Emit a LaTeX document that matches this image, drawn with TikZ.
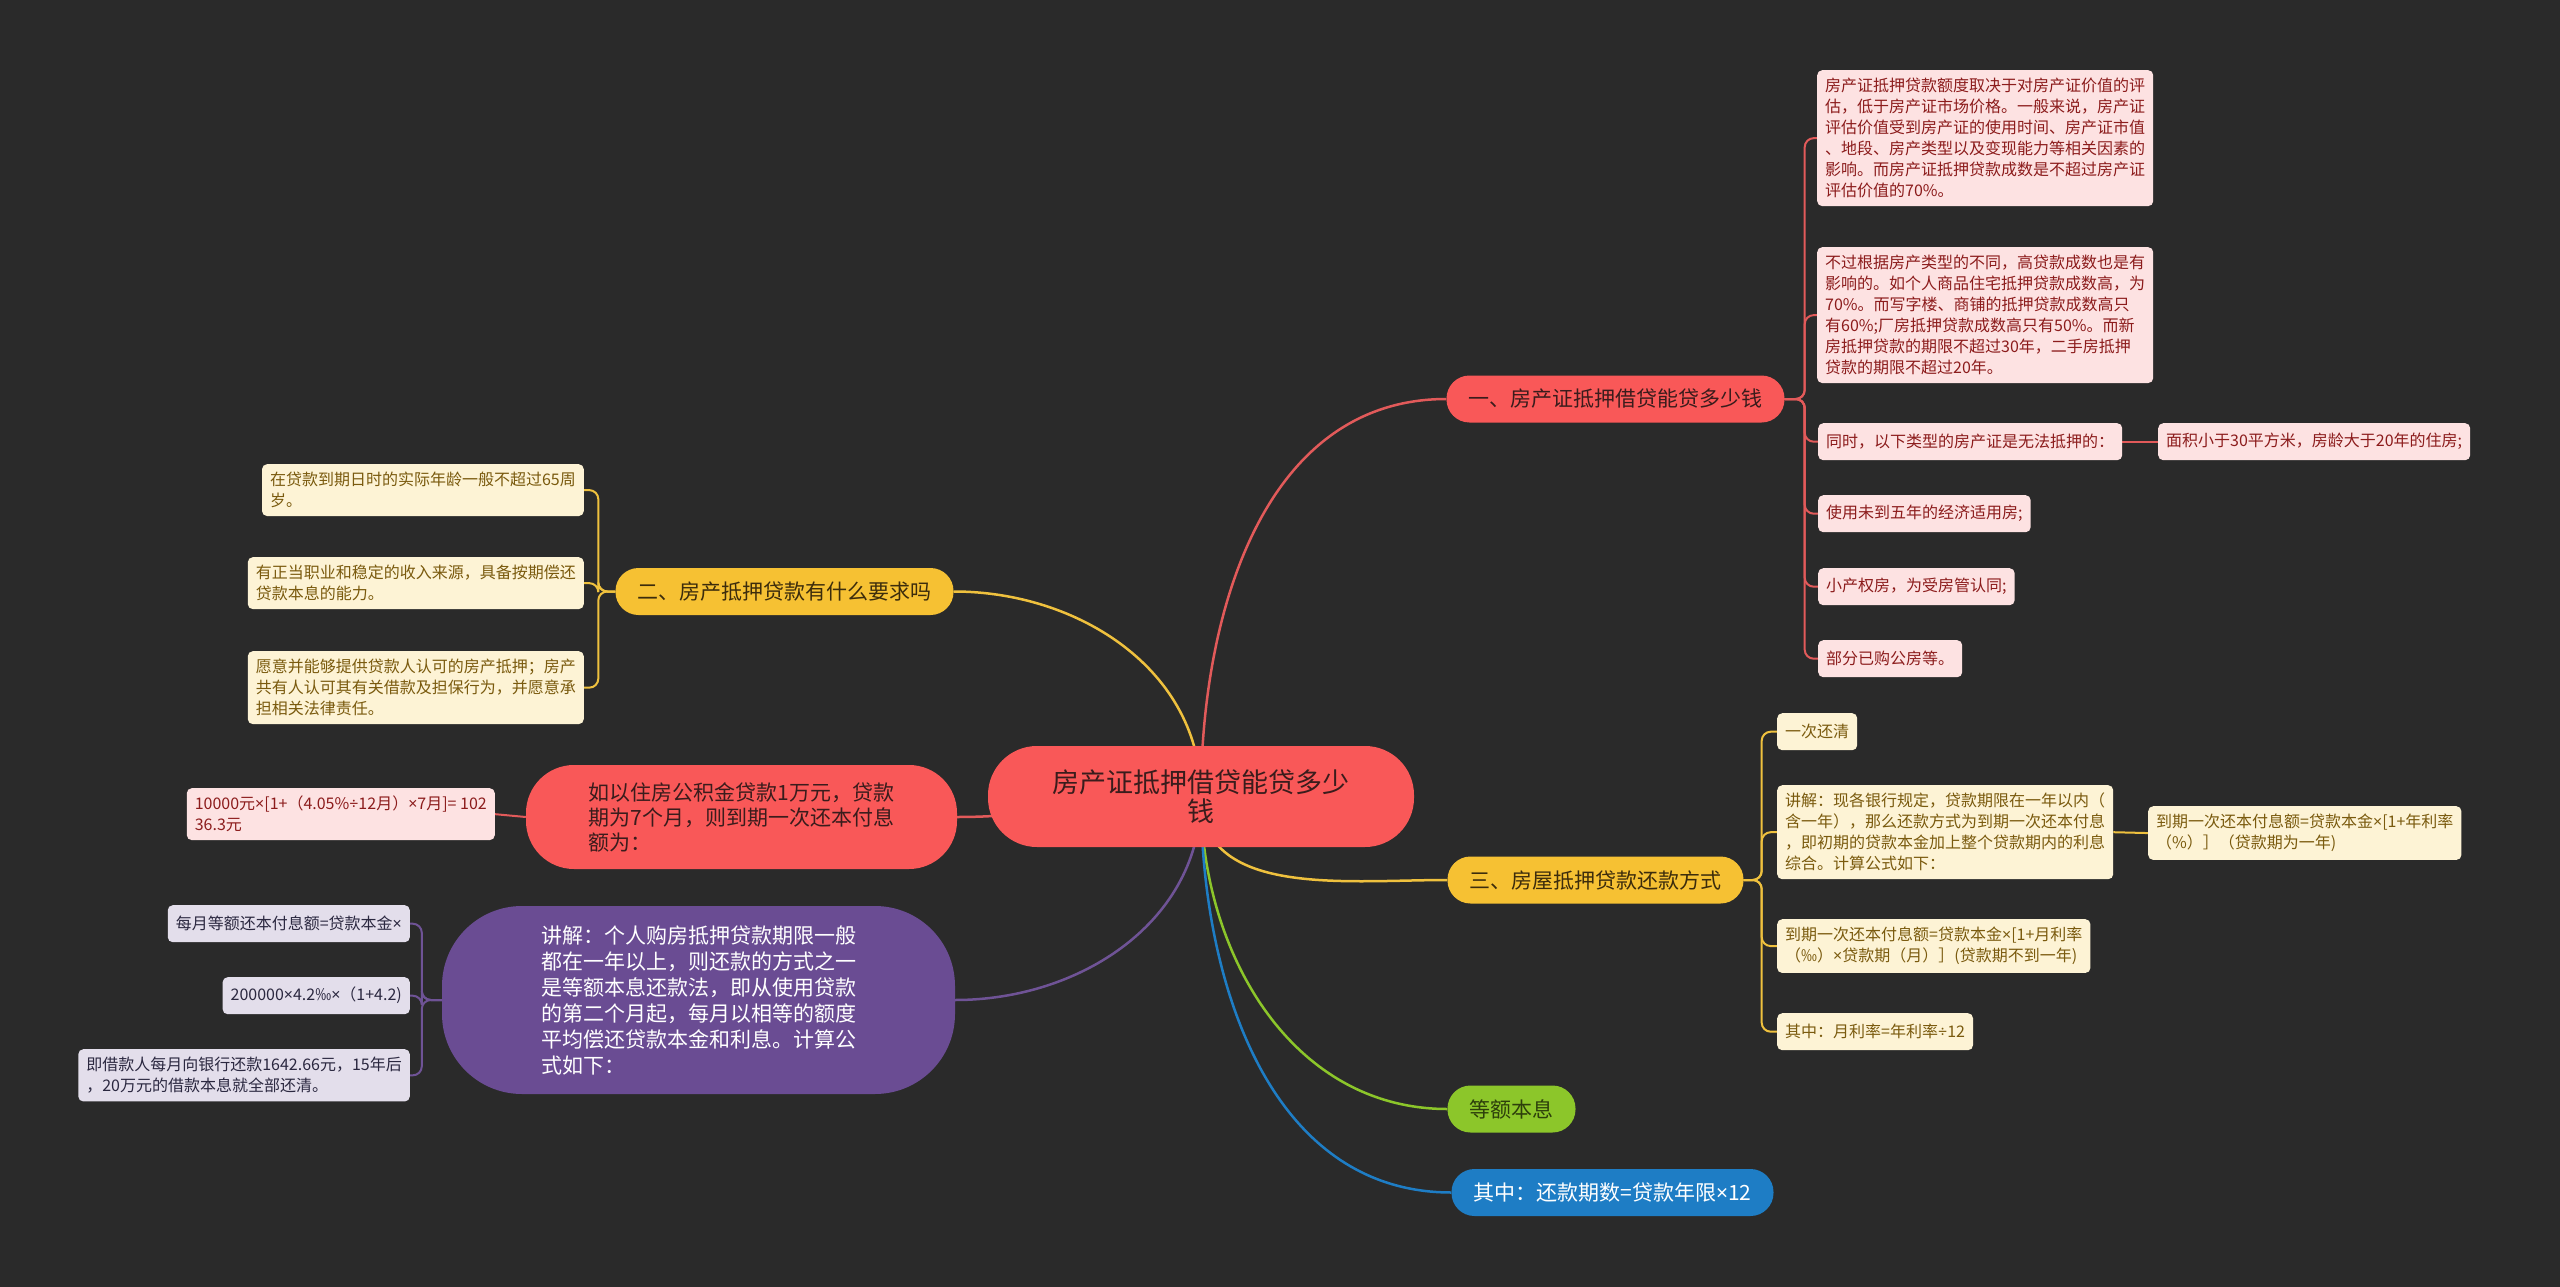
\documentclass[tikz,border=0pt]{standalone}
\usepackage{fontspec}
\setmainfont{Noto Sans CJK SC}
\newfontfamily\lat{Noto Sans}
\definecolor{bgc}{HTML}{2A2A2A}
\definecolor{mred}{HTML}{F95858}
\definecolor{lred}{HTML}{E25A5A}
\definecolor{rtext}{HTML}{3A1C1C}
\definecolor{pinkbg}{HTML}{FDE2E2}
\definecolor{pinktx}{HTML}{8C1C1C}
\definecolor{gold}{HTML}{F6C133}
\definecolor{lgold}{HTML}{EFC13E}
\definecolor{goldtx}{HTML}{3C2C0C}
\definecolor{goldbg}{HTML}{FDF3D5}
\definecolor{goldlf}{HTML}{7A5A0E}
\definecolor{violet}{HTML}{6A4C93}
\definecolor{lviolet}{HTML}{6F5396}
\definecolor{lilacbg}{HTML}{E3DEEB}
\definecolor{lilactx}{HTML}{2B2840}
\definecolor{lime}{HTML}{8CC62A}
\definecolor{limetx}{HTML}{2D3F0B}
\definecolor{sky}{HTML}{1E7DC5}
\pgfdeclarelayer{back}
\pgfsetlayers{back,main}
\begin{document}
\begin{tikzpicture}[x=1pt, y=-1pt, line cap=round, line join=round,
  root/.style={fill=mred, text=rtext, rounded corners=49pt, minimum width=426pt, minimum height=101pt, align=center, font=\fontsize{27}{29}\selectfont},
  topic/.style={rounded corners=23pt, inner xsep=22pt, minimum height=47pt, font=\fontsize{21}{26}\selectfont},
  leaf/.style={rounded corners=5pt, inner xsep=8pt, inner ysep=8pt, minimum height=37pt, align=left, font=\fontsize{16}{21}\selectfont},
  pinkleaf/.style={leaf, fill=pinkbg, text=pinktx},
  goldleaf/.style={leaf, fill=goldbg, text=goldlf},
  lilacleaf/.style={leaf, fill=lilacbg, text=lilactx},
  link/.style={line width=2.5pt},
  twig/.style={line width=2pt, rounded corners=9pt}]
\useasboundingbox (0,0) rectangle (2560,1287);
% centre and topics
\node[root] (root) at (1201,796.5) {房产证抵押借贷能贷多少\\钱};
\node[topic, fill=mred, text=rtext] (t1) at (1615.5,399) {一、房产证抵押借贷能贷多少钱};
\node[topic, fill=gold, text=goldtx] (t2) at (784.5,591.5) {二、房产抵押贷款有什么要求吗};
\node[topic, fill=mred, text=rtext, rounded corners=48pt, minimum width=431pt, minimum height=104pt, align=left, font=\fontsize{21}{25}\selectfont] (t3) at (741.5,817) {如以住房公积金贷款1万元，贷款\\期为7个月，则到期一次还本付息\\额为：};
\node[topic, fill=violet, text=white, rounded corners=80pt, minimum width=513pt, minimum height=188pt, align=left] (t4) at (698.5,1000) {讲解：个人购房抵押贷款期限一般\\都在一年以上，则还款的方式之一\\是等额本息还款法，即从使用贷款\\的第二个月起，每月以相等的额度\\平均偿还贷款本金和利息。计算公\\式如下：};
\node[topic, fill=gold, text=goldtx] (t5) at (1595.5,880) {三、房屋抵押贷款还款方式};
\node[topic, fill=lime, text=limetx] (t6) at (1511.5,1109) {等额本息};
\node[topic, fill=sky, text=white] (t7) at (1612.5,1192.5) {其中：还款期数=贷款年限{\lat ×}12};
% right leaves
\node[pinkleaf, anchor=north west] (r1) at (1817,70) {房产证抵押贷款额度取决于对房产证价值的评\\估，低于房产证市场价格。一般来说，房产证\\评估价值受到房产证的使用时间、房产证市值\\、地段、房产类型以及变现能力等相关因素的\\影响。而房产证抵押贷款成数是不超过房产证\\评估价值的70\%。};
\node[pinkleaf, anchor=north west] (r2) at (1817,247) {不过根据房产类型的不同，高贷款成数也是有\\影响的。如个人商品住宅抵押贷款成数高，为\\70\%。而写字楼、商铺的抵押贷款成数高只\\有60\%;厂房抵押贷款成数高只有50\%。而新\\房抵押贷款的期限不超过30年，二手房抵押\\贷款的期限不超过20年。};
\node[pinkleaf, anchor=north west] (r3) at (1818,423) {同时，以下类型的房产证是无法抵押的：};
\node[pinkleaf, anchor=north west] (r3a) at (2158,423) {面积小于30平方米，房龄大于20年的住房;};
\node[pinkleaf, anchor=north west] (r4) at (1818,495) {使用未到五年的经济适用房;};
\node[pinkleaf, anchor=north west] (r5) at (1818,568) {小产权房，为受房管认同;};
\node[pinkleaf, anchor=north west] (r6) at (1818,640) {部分已购公房等。};
\node[goldleaf, anchor=north west] (y1) at (1777,713) {一次还清};
\node[goldleaf, anchor=north west] (y2) at (1777,785) {讲解：现各银行规定，贷款期限在一年以内（\\含一年），那么还款方式为到期一次还本付息\\，即初期的贷款本金加上整个贷款期内的利息\\综合。计算公式如下：};
\node[goldleaf, anchor=north west] (y2a) at (2148,806) {到期一次还本付息额=贷款本金{\lat ×}[1+年利率\\（\%）］（贷款期为一年)};
\node[goldleaf, anchor=north west] (y3) at (1777,919) {到期一次还本付息额=贷款本金{\lat ×}[1+月利率\\（‰）{\lat ×}贷款期（月）］(贷款期不到一年)};
\node[goldleaf, anchor=north west] (y4) at (1777,1013) {其中：月利率=年利率{\lat ÷}12};
% left leaves
\node[goldleaf, anchor=north east] (g1) at (584,464) {在贷款到期日时的实际年龄一般不超过65周\\岁。};
\node[goldleaf, anchor=north east] (g2) at (584,557) {有正当职业和稳定的收入来源，具备按期偿还\\贷款本息的能力。};
\node[goldleaf, anchor=north east] (g3) at (584,651) {愿意并能够提供贷款人认可的房产抵押；房产\\共有人认可其有关借款及担保行为，并愿意承\\担相关法律责任。};
\node[pinkleaf, anchor=north east] (p1) at (495,788) {10000元{\lat ×}[1+（4.05\%{\lat ÷}12月）{\lat ×}7月]= 102\\36.3元};
\node[lilacleaf, anchor=north east] (u1) at (410,905) {每月等额还本付息额=贷款本金{\lat ×}};
\node[lilacleaf, anchor=north east] (u2) at (410,977) {200000{\lat ×}4.2‰{\lat ×}（1+4.2)};
\node[lilacleaf, anchor=north east] (u3) at (410,1049) {即借款人每月向银行还款1642.66元，15年后\\，20万元的借款本息就全部还清。};
\begin{pgfonlayer}{back}
\fill[bgc] (0,0) rectangle (2560,1287);
\draw[link, lred] (root.center) to[out=90,in=180] (t1.west);
\draw[link, lgold] (root.center) to[out=90,in=0] (t2.east);
\draw[link, lred] (root.center) to[out=180,in=0] (t3.east);
\draw[link, lviolet] (root.center) to[out=-90,in=0] (t4.east);
\draw[link, lgold] (root.center) to[out=-90,in=180] (t5.west);
\draw[link, lime] (root.center) to[out=-90,in=180] (t6.west);
\draw[link, sky] (root.center) to[out=-90,in=180] (t7.west);
\foreach \n in {r1,r2,r3,r4,r5,r6} \draw[twig, lred] (t1.east) -- ++(20,0) |- (\n.west);
\draw[twig, lred] (r3.east) -- (r3a.west);
\foreach \n in {y1,y2,y3,y4} \draw[twig, lgold] (t5.east) -- ++(18,0) |- (\n.west);
\draw[twig, lgold] (y2.east) -- (y2a.west);
\foreach \n in {g1,g2,g3} \draw[twig, lgold] (t2.west) -- ++(-17,0) |- (\n.east);
\draw[twig, lred] (t3.west) -- (p1.east);
\foreach \n in {u1,u2,u3} \draw[twig, lviolet] (t4.west) -- ++(-20,0) |- (\n.east);
\end{pgfonlayer}
\end{tikzpicture}
\end{document}
